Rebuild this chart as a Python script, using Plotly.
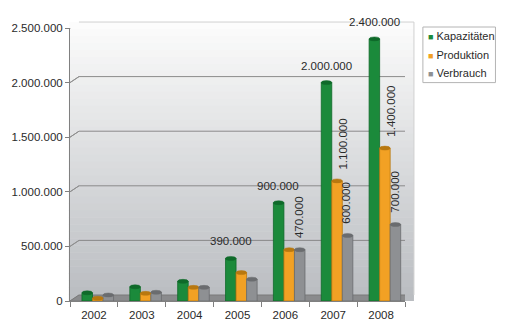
import plotly.graph_objects as go

years = ["2002", "2003", "2004", "2005", "2006", "2007", "2008"]
kapazitaeten = [75000, 130000, 180000, 390000, 900000, 2000000, 2400000]
produktion = [25000, 70000, 125000, 260000, 470000, 1100000, 1400000]
verbrauch = [55000, 80000, 125000, 200000, 470000, 600000, 700000]

kap_labels = ["", "", "", "390.000", "900.000", "2.000.000", "2.400.000"]
prod_labels = ["", "", "", "", "", "1.100.000", "1.400.000"]
verb_labels = ["", "", "", "", "470.000", "600.000", "700.000"]

y_ticks = [0, 500000, 1000000, 1500000, 2000000, 2500000]
y_ticktext = ["0", "500.000", "1.000.000", "1.500.000", "2.000.000", "2.500.000"]

GREEN = "#1b8a3b"
ORANGE = "#f2a124"
GREY = "#8e9093"
FONT = "Liberation Sans, Arial, sans-serif"
TXT = "#2a2a2a"
FS = 11.5

fig = go.Figure()
series = [
    ("Kapazitäten", kapazitaeten, GREEN, "#0f6a2a", -0.25),
    ("Produktion", produktion, ORANGE, "#b87810", -0.03),
    ("Verbrauch", verbrauch, GREY, "#6a6c6f", 0.19),
]
BW = 0.22
for name, vals, col, edge, off in series:
    fig.add_trace(go.Bar(
        x=years, y=vals, name=name, width=BW, offset=off, showlegend=False,
        marker=dict(color=col, line=dict(color=edge, width=0.8)),
    ))

DX, DY = 9, 6  # depth offset in pixels
PW, PH = 337, 275
shapes = []
# back wall gradient stripes
n = 40
top_c = (252, 252, 252)
bot_c = (186, 189, 193)
for i in range(n):
    t = i / (n - 1)
    c = tuple(int(top_c[k] + (bot_c[k] - top_c[k]) * t) for k in range(3))
    y1 = 1 + DY / PH - i * (1 + DY / PH) / n
    y0 = y1 - (1 + DY / PH) / n - 0.002
    shapes.append(dict(type="rect", xref="paper", yref="paper", x0=DX / PW - 0.03, x1=1 + DX / PW,
                       y0=max(y0, 0), y1=y1, fillcolor="rgb(%d,%d,%d)" % c, line=dict(width=0), layer="below"))
# back wall outline
shapes.append(dict(type="path", xref="paper", yref="paper",
                   path="M %f,%f L %f,%f L %f,%f" % (DX / PW, 1 + DY / PH, 1 + DX / PW, 1 + DY / PH, 1 + DX / PW, DY / PH),
                   line=dict(color="#d0d0d0", width=1), layer="below"))
# gridlines on back wall with slanted connectors
for v in y_ticks:
    shapes.append(dict(type="path", xref="x", yref="y", xsizemode="pixel", ysizemode="pixel",
                       xanchor=-0.5, yanchor=v,
                       path="M 0,0 L %d,%d L %d,%d" % (DX, DY, PW + DX, DY),
                       line=dict(color="#8a8a8a" if v else "rgba(0,0,0,0)", width=1), layer="below"))
    shapes.append(dict(type="path", xref="x", yref="y", xsizemode="pixel", ysizemode="pixel",
                       xanchor=-0.5, yanchor=v,
                       path="M 0,0 L %d,%d" % (DX, DY),
                       line=dict(color="#909090", width=1), layer="below"))
# floor
shapes.append(dict(type="path", xref="x", yref="y", xsizemode="pixel", ysizemode="pixel",
                   xanchor=-0.5, yanchor=0,
                   path="M 0,0 L %d,%d L %d,%d L %d,0 Z" % (DX, DY, PW + DX, DY, PW),
                   fillcolor="#8a8b8d", line=dict(color="#7a7a7a", width=1), layer="below"))

# cylinder tops (ellipses) anchored on each bar's value
for name, vals, col, edge, off in series:
    for i, v in enumerate(vals):
        shapes.append(dict(type="circle", xref="x", yref="y", xsizemode="pixel", ysizemode="pixel",
                           xanchor=i + off + BW / 2, yanchor=v, x0=-5.3, x1=5.3, y0=-2, y1=2,
                           fillcolor=edge, line=dict(color=edge, width=0.5), layer="above"))

annotations = []
for i, (v, lab) in enumerate(zip(kapazitaeten, kap_labels)):
    if lab:
        annotations.append(dict(x=i, y=v, xref="x", yref="y", text=lab, showarrow=False, xshift=-7, yshift=9,
                                yanchor="bottom", font=dict(size=FS, color=TXT, family=FONT)))
for i, (v, lab) in enumerate(zip(produktion, prod_labels)):
    if lab:
        annotations.append(dict(x=i, y=v, xref="x", yref="y", text=lab, showarrow=False, textangle=-90, xshift=10,
                                yshift=9, yanchor="bottom", font=dict(size=FS, color=TXT, family=FONT)))
for i, (v, lab) in enumerate(zip(verbrauch, verb_labels)):
    if lab:
        annotations.append(dict(x=i, y=v, xref="x", yref="y", text=lab, showarrow=False, textangle=-90, xshift=13,
                                yshift=10, yanchor="bottom", font=dict(size=FS, color=TXT, family=FONT)))

# legend (drawn as real text with coloured square glyphs)
legend_names = [s[0] for s in series]
legend_colors = [s[2] for s in series]
shapes.append(dict(type="rect", xref="paper", yref="paper", x0=(423 - 68) / PW, x1=(496 - 68) / PW,
                   y0=(303 - 83) / PH, y1=(303 - 27) / PH, line=dict(color="#b4b4b4", width=1),
                   fillcolor="white"))
for k, (nm, col) in enumerate(zip(legend_names, legend_colors)):
    ypix = 36.5 + k * 18.5
    annotations.append(dict(xref="paper", yref="paper", x=(426 - 68) / PW, y=(303 - ypix) / PH,
                            xanchor="left", yanchor="middle", showarrow=False,
                            text="<span style='color:%s;font-size:9px'>■</span> %s" % (col, nm),
                            font=dict(size=11, color=TXT, family=FONT)))

fig.update_layout(
    width=506, height=333,
    margin=dict(l=68, r=101, t=28, b=30),
    paper_bgcolor="white", plot_bgcolor="rgba(0,0,0,0)",
    font=dict(family=FONT, size=FS, color=TXT),
    showlegend=False,
    shapes=shapes,
    annotations=annotations,
)
fig.update_xaxes(type="category", range=[-0.5, 6.5], showgrid=False, tickson="boundaries",
                 ticks="outside", ticklen=5, tickcolor="#808080", showline=True, linecolor="#808080",
                 ticklabelstandoff=3, tickfont=dict(size=FS, color=TXT))
fig.update_yaxes(range=[0, 2500000], tickvals=y_ticks, ticktext=y_ticktext, showgrid=False,
                 ticks="outside", ticklen=4, tickcolor="#808080", showline=True, linecolor="#808080",
                 zeroline=False, tickfont=dict(size=FS, color=TXT))

fig.write_html("out.html")
